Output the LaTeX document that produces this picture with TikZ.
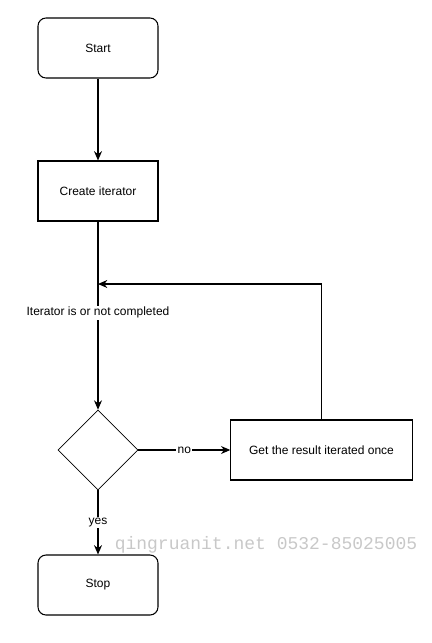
\documentclass[tikz,border=0pt]{standalone}
\usepackage{fontspec}
\setmainfont{Liberation Sans}
\newfontfamily\markfont{Liberation Mono}
\usepackage{xcolor}
\usetikzlibrary{arrows.meta, shapes.geometric}

\definecolor{markgray}{RGB}{200,200,200}

\begin{document}
\begin{tikzpicture}[
    ->, >={Stealth[length=7pt, width=6pt]}, x=0.75pt, y=-0.75pt,
    terminal/.style={rectangle, rounded corners=6pt, draw, minimum width=90pt, minimum height=45pt, font=\fontsize{9}{11}\selectfont},
    process/.style={rectangle, draw, minimum width=90pt, minimum height=45pt, font=\fontsize{9}{11}\selectfont},
    decision/.style={diamond, draw, inner sep=0pt, minimum width=60pt, minimum height=60pt, line width=0.5pt},
    edge label/.style={font=\fontsize{9}{11}\selectfont, fill=white, inner sep=1pt},
    line width=0.8pt, draw=black
]
\useasboundingbox (0,0) rectangle (432,643);

% Nodes
\node[terminal] (start) at (98,48) {Start};
\node[process] (create) at (98,191) {Create iterator};
\node[decision] (cond) at (98,450) {};
\node[process, minimum width=136pt] (get) at (321.5,450) {Get the result iterated once};
\node[terminal] (stop) at (98,585) {Stop};
\coordinate (merge) at (98,284);

% Edges
\draw (start) -- (create);
\draw (create) -- (cond) node[pos=0.485, edge label] {Iterator is or not completed};
\draw (cond) -- (get) node[midway, edge label] {no};
\draw (cond) -- (stop) node[midway, edge label] {yes};
\draw (get.north) |- (merge);

% watermark
\node[font=\markfont\fontsize{13.5}{15}\selectfont, text=markgray] (mark) at (266,545) {qingruanit.net 0532-85025005};

\end{tikzpicture}
\end{document}
